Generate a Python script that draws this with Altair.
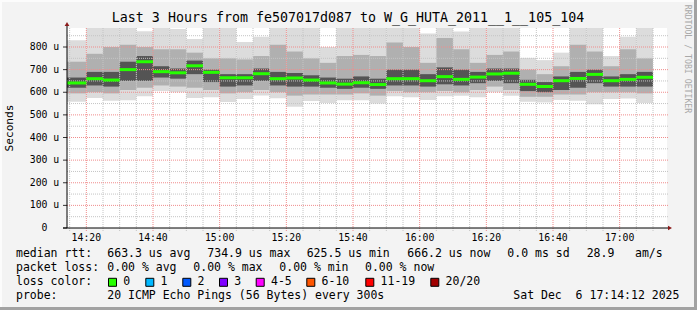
import altair as alt
import pandas as pd

# ---------------- data ----------------
graph_start = "14:14:12"
graph_end = "17:14:12"
ends = ["14:20", "14:25", "14:30", "14:35", "14:40", "14:45", "14:50", "14:55",
        "15:00", "15:05", "15:10", "15:15", "15:20", "15:25", "15:30", "15:35",
        "15:40", "15:45", "15:50", "15:55", "16:00", "16:05", "16:10", "16:15",
        "16:20", "16:25", "16:30", "16:35", "16:40", "16:45", "16:50", "16:55",
        "17:00", "17:05", "17:10"]
median_rtt = [641, 660, 654, 700, 734.9, 691, 686, 717, 688, 664, 664, 682, 660, 663,
              654, 641, 636, 642, 634, 660, 660, 651, 669, 657, 667, 681, 684, 635,
              625.5, 651, 661, 679, 651, 657, 666.2]
max_rtt = [830, 920, 920, 920, 870, 920, 880, 835, 920, 920, 822, 845, 920, 920, 920,
           800, 920, 920, 920, 920, 920, 860, 920, 868, 920, 920, 920, 752, 742, 775,
           920, 920, 760, 845, 920]
hi2 = [735, 770, 800, 810, 800, 790, 790, 775, 750, 750, 745, 760, 810, 780, 750, 730,
       760, 765, 760, 820, 800, 730, 840, 790, 730, 765, 780, 700, 680, 715, 810, 780,
       715, 790, 750]
hi1 = [665, 690, 690, 735, 760, 715, 705, 740, 700, 680, 680, 705, 690, 685, 675, 665,
       660, 670, 660, 700, 700, 680, 710, 700, 690, 705, 705, 655, 645, 670, 690, 700,
       670, 680, 690]
lo1 = [620, 630, 625, 650, 650, 665, 660, 680, 645, 625, 630, 650, 630, 625, 625, 620,
       615, 620, 615, 630, 630, 625, 635, 630, 640, 650, 640, 605, 600, 610, 620, 640,
       625, 625, 625]
lo2 = [595, 600, 595, 610, 620, 630, 625, 620, 610, 595, 600, 610, 600, 585, 590, 590,
       590, 595, 585, 605, 600, 600, 605, 600, 610, 625, 610, 580, 580, 590, 590, 600,
       600, 600, 595]
min_rtt = [558, 575, 562, 565, 582, 605, 600, 575, 578, 557, 570, 586, 574, 536, 561,
           552, 565, 565, 550, 582, 578, 566, 582, 584, 578, 600, 584, 558, 555, 566,
           562, 547, 570, 572, 552]

y_tick_values = [0, 100, 200, 300, 400, 500, 600, 700, 800]
x_tick_labels = ["14:20", "14:40", "15:00", "15:20", "15:40", "16:00", "16:20", "16:40", "17:00"]

title_text = "Last 3 Hours from fe507017d087 to W_G_HUTA_2011__1__105_104"
legend_line1 = ["median rtt:", "663.3 us avg", "734.9 us max", "625.5 us min",
                "666.2 us now", "0.0 ms sd", "28.9", "am/s"]
legend_line2 = ["packet loss:", "0.00 % avg", "0.00 % max", "0.00 % min", "0.00 % now"]
loss_labels = ["0", "1", "2", "3", "4-5", "6-10", "11-19", "20/20"]
loss_colors = ["#26ff00", "#00b8ff", "#0059ff", "#7e00ff", "#ff00ff", "#ff5500",
               "#ff0000", "#a10000"]
probe_text = "20 ICMP Echo Pings (56 Bytes) every 300s"
date_text = "Sat Dec \u00a06 17:14:12 2025"


def to_min(s):
    parts = [int(p) for p in s.split(":")]
    h, m = parts[0], parts[1]
    sec = parts[2] if len(parts) > 2 else 0
    return (h - 14) * 60 + m + sec / 60.0


T0 = to_min(graph_start)
T1 = to_min(graph_end)
end_min = [to_min(e) for e in ends]
start_min = [T0] + end_min[:-1]

# ---------------- layout ----------------
W, H = 600, 200
PAD = {"left": 67, "top": 28, "right": 30, "bottom": 82}
FONT = "DejaVu Sans Mono"
LEG = 11.5
AX = 9.8

xs = alt.Scale(domain=[T0, T1], nice=False, zero=False)
ys = alt.Scale(domain=[0, 884], nice=False, zero=True)

rows = []
bands = [("outer", min_rtt, max_rtt), ("mid", lo2, hi2), ("inner", lo1, hi1)]
for order, (name, lo, hi) in enumerate(bands):
    for i in range(len(ends)):
        rows.append({"s": start_min[i], "e": end_min[i], "lo": lo[i], "hi": hi[i],
                     "band": name, "o": order})
smoke_df = pd.DataFrame(rows)

smoke = alt.Chart(smoke_df).mark_rect(clip=True).encode(
    x=alt.X("s:Q", scale=xs, axis=None),
    x2="e:Q",
    y=alt.Y("lo:Q", scale=ys, axis=None),
    y2="hi:Q",
    color=alt.Color("band:N", scale=alt.Scale(domain=["outer", "mid", "inner"],
                                              range=["#dcdcdc", "#b0b0b0", "#545454"]),
                    legend=None),
    order="o:Q",
)

med_df = pd.DataFrame({"s": start_min, "e": end_min, "m": median_rtt})
median = alt.Chart(med_df).mark_rule(strokeWidth=3, color="#26ff00").encode(
    x=alt.X("s:Q", scale=xs, axis=None), x2="e:Q",
    y=alt.Y("m:Q", scale=ys, axis=None),
)

# grid
vmin = [m for m in range(15, 191, 5) if m % 20 != 0]
vmaj = [m for m in range(20, 181, 20)]
hmin = [v for v in range(50, 851, 100)]
hmaj = [v for v in range(100, 801, 100)]

def vgrid(vals, color):
    return alt.Chart(pd.DataFrame({"v": vals})).mark_rule(
        color=color, strokeDash=[1, 1], strokeWidth=1).encode(
        x=alt.X("v:Q", scale=xs, axis=None), y=alt.value(0), y2=alt.value(H + 3))

def hgrid(vals, color):
    return alt.Chart(pd.DataFrame({"v": vals})).mark_rule(
        color=color, strokeDash=[1, 1], strokeWidth=1).encode(
        y=alt.Y("v:Q", scale=ys, axis=None), x=alt.value(0), x2=alt.value(W + 1))

grid = [vgrid(vmin, "#c4c4c4"), hgrid(hmin, "#c4c4c4"),
        vgrid(vmaj, "#f08c8c"), hgrid(hmaj, "#f08c8c")]

ytick_df = pd.DataFrame({"v": y_tick_values,
                         "t": ["0" if v == 0 else f"{v} u" for v in y_tick_values]})
yticks = alt.Chart(ytick_df).mark_rule(color="#333333").encode(
    y=alt.Y("v:Q", scale=ys, axis=None), x=alt.value(-4), x2=alt.value(0))
ylabels = alt.Chart(ytick_df).mark_text(font=FONT, fontSize=AX, align="center",
                                        baseline="middle", color="#000000").encode(
    y=alt.Y("v:Q", scale=ys, axis=None), x=alt.value(-22.5), text="t:N")

xlab_df = pd.DataFrame({"v": [to_min(t) for t in x_tick_labels], "t": x_tick_labels})
xlabels = alt.Chart(xlab_df).mark_text(font=FONT, fontSize=AX, align="center",
                                       baseline="middle", color="#000000").encode(
    x=alt.X("v:Q", scale=xs, axis=None), y=alt.value(H + 10), text="t:N")

one = pd.DataFrame({"a": [0]})

def rule(**kw):
    style = kw.pop("style", {})
    return alt.Chart(one).mark_rule(**style).encode(**kw)

axis_left = rule(x=alt.value(0), y=alt.value(-4), y2=alt.value(H),
                 style={"color": "#000000", "strokeWidth": 1})
axis_bottom = rule(y=alt.value(H), x=alt.value(-4), x2=alt.value(W + 2),
                   style={"color": "#000000", "strokeWidth": 1})
arrow_up = alt.Chart(one).mark_point(shape="triangle-up", filled=True, size=22,
                                     color="#8b1a1a", opacity=1).encode(
    x=alt.value(0), y=alt.value(-4))
arrow_right = alt.Chart(one).mark_point(shape="triangle-right", filled=True, size=22,
                                        color="#8b1a1a", opacity=1).encode(
    x=alt.value(W + 3), y=alt.value(H))

# frame shading
frame = [
    rule(x=alt.value(628.5), y=alt.value(-28), y2=alt.value(282),
         style={"color": "#a2a2a2", "strokeWidth": 3}),
    rule(y=alt.value(280.5), x=alt.value(-67), x2=alt.value(630),
         style={"color": "#a2a2a2", "strokeWidth": 3}),
    rule(y=alt.value(-27), x=alt.value(-67), x2=alt.value(627),
         style={"color": "#fcfcfc", "strokeWidth": 2}),
    rule(x=alt.value(-66), y=alt.value(-28), y2=alt.value(279),
         style={"color": "#fcfcfc", "strokeWidth": 2}),
]

def txt(s, x, y, size=LEG, align="left", angle=0, color="#000000"):
    return alt.Chart(one).mark_text(font=FONT, fontSize=size, align=align,
                                    baseline="middle", angle=angle, color=color).encode(
        x=alt.value(x), y=alt.value(y), text=alt.value(s))

texts = [
    txt(title_text, 281, -10, size=13.3, align="center"),
    txt("Seconds", -57, 100, angle=270, align="center", size=11.2),
    txt("RRDTOOL / TOBI OETIKER", 620, 31, size=8.2, align="center", angle=90,
        color="#a8a8a8"),
]

L1 = [-51, 40.3, 140.3, 239.7, 340.3, 440.3, 519.7, 568]
for s, x in zip(legend_line1, L1):
    texts.append(txt(s, x, 226.3))
L2 = [-51, 40.3, 126.3, 212.3, 298]
for s, x in zip(legend_line2, L2):
    texts.append(txt(s, x, 240.3))
texts.append(txt("loss color:", -51, 254.3))
box_x = [45.5, 82.8, 119.8, 156.5, 193.2, 243.8, 302.8, 367.8]
for lab, col, bx in zip(loss_labels, loss_colors, box_x):
    texts.append(alt.Chart(one).mark_point(shape="square", filled=True, size=64,
                                           color=col, stroke="#000000", strokeWidth=1,
                                           opacity=1).encode(
        x=alt.value(bx), y=alt.value(254.3)))
    texts.append(txt(lab, bx + 10.8, 254.3))
texts.append(txt("probe:", -51, 268))
texts.append(txt(probe_text, 40.3, 268))
texts.append(txt(date_text, 446.3, 268))

chart = alt.layer(
    smoke, *grid, median, yticks, ylabels, xlabels, axis_left, axis_bottom,
    arrow_up, arrow_right, *frame, *texts
).properties(
    width=W, height=H, padding=PAD,
    autosize=alt.AutoSizeParams(type="none"),
    background="#f3f3f3",
).configure_view(fill="#ffffff", strokeWidth=0)

chart.save("out.html", embed_options={"renderer": "svg", "actions": False})
